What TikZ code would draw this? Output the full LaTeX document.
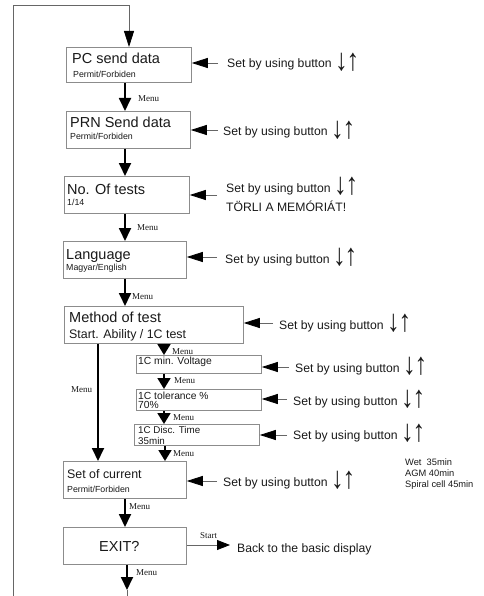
\documentclass[tikz,border=0pt]{standalone}
\usepackage{fontspec}
\usepackage{graphicx}
\setmainfont{Liberation Sans}
\newfontfamily\menufont{Liberation Serif}
\usetikzlibrary{arrows.meta}
\newcommand\updn{{\fontsize{22}{22}\selectfont\raisebox{-2.5pt}{\scalebox{1.15}[1.4]{↓\kern-1pt↑}}}}
\begin{document}
\begin{tikzpicture}[x=1pt,y=-1pt,
  box/.style={draw=black!45, line width=0.8pt, inner sep=0pt, anchor=north west},
  txt/.style={anchor=base west, inner sep=0pt, text=black!90},
  title/.style={txt, font=\fontsize{14.5}{16}\selectfont},
  sub/.style={txt, font=\fontsize{8.8}{10}\selectfont},
  small/.style={txt, font=\fontsize{10.3}{11}\selectfont},
  menu/.style={txt, font=\menufont\fontsize{9}{10}\selectfont},
  setby/.style={txt, font=\fontsize{12.2}{14}\selectfont},
  varr/.style={line width=1.8pt, -{Triangle[length=13pt,width=12pt]}},
  sarr/.style={line width=1.8pt, -{Triangle[length=11pt,width=13pt]}},
  setarr/.style={draw=black!60, line width=0.8pt, -{Triangle[length=16pt,width=10pt,color=black]}},
  thinline/.style={draw=black!60, line width=0.8pt}
]
\useasboundingbox (0,0) rectangle (483,596);

% boxes
\node[box, minimum width=125pt, minimum height=35pt] (pc) at (66,47) {};
\node[box, minimum width=124pt, minimum height=37pt] (prn) at (66,111) {};
\node[box, minimum width=125pt, minimum height=37pt] (tests) at (64,176) {};
\node[box, minimum width=123pt, minimum height=37pt] (lang) at (63,241) {};
\node[box, minimum width=179pt, minimum height=37pt] (method) at (64,306) {};
\node[box, minimum width=125pt, minimum height=18pt] (volt) at (136,355) {};
\node[box, minimum width=125pt, minimum height=21pt] (tol) at (136,389) {};
\node[box, minimum width=125pt, minimum height=21pt] (disc) at (134,424) {};
\node[box, minimum width=123pt, minimum height=37pt] (cur) at (63,461) {};
\node[box, minimum width=123pt, minimum height=37pt] (exit) at (63,527) {};

% box texts
\node[title] (t1) at (72,64) {PC send data};
\node[sub] (s1) at (73,78) {Permit/Forbiden};
\node[title] (t2) at (70,128) {PRN Send data};
\node[sub] (s2) at (70,140) {Permit/Forbiden};
\node[title] (t3) at (67,194) {No. Of tests};
\node[sub] (s3) at (67,205) {1/14};
\node[title] (t4) at (66,259) {Language};
\node[sub] (s4) at (66,270) {Magyar/English};
\node[title] (t5) at (69,322) {Method of test};
\node[txt, font=\fontsize{12.4}{14}\selectfont] (s5) at (69,338) {Start. Ability / 1C test};
\node[small] (t6) at (138,364) {1C min. Voltage};
\node[small] (t7) at (138,399) {1C tolerance \%};
\node[small] (s7) at (138,408) {70\%};
\node[txt, font=\fontsize{9.8}{11}\selectfont] (t8) at (138,433) {1C Disc. Time};
\node[txt, font=\fontsize{9.8}{11}\selectfont] (s8) at (138,444) {35min};
\node[txt, font=\fontsize{12.4}{14}\selectfont] (t9) at (67,478) {Set of current};
\node[sub] (s9) at (67,492) {Permit/Forbiden};
\node[title] (t10) at (99,551) {EXIT?};

% menu labels
\node[menu] (m1) at (138,102) {Menu};
\node[menu] (m2) at (137,230) {Menu};
\node[menu] (m3) at (132,299) {Menu};
\node[menu] (m4) at (71,392) {Menu};
\node[menu] (m5) at (172,354) {Menu};
\node[menu] (m6) at (174,383) {Menu};
\node[menu] (m7) at (173,420) {Menu};
\node[menu] (m8) at (173,456) {Menu};
\node[menu] (m9) at (129,509) {Menu};
\node[menu] (m10) at (136,575) {Menu};
\node[menu] (start) at (200,538) {Start};

% set-by texts
\node[setby] (b1) at (227,68) {Set by using button \updn};
\node[setby] (b2) at (223,136) {Set by using button \updn};
\node[setby] (b3) at (226,192) {Set by using button \updn};
\node[setby] (b3b) at (226,211) {TÖRLI A MEMÓRIÁT!};
\node[setby] (b4) at (225,263) {Set by using button \updn};
\node[setby] (b5) at (279,329) {Set by using button \updn};
\node[setby] (b6) at (295,372) {Set by using button \updn};
\node[setby] (b7) at (293,405) {Set by using button \updn};
\node[setby] (b8) at (293,439) {Set by using button \updn};
\node[setby] (b9) at (223,486) {Set by using button \updn};
\node[setby] (back) at (237,552) {Back to the basic display};
\node[txt, font=\fontsize{9.3}{10.6}\selectfont, align=left, anchor=north west] (note) at (405,459) {Wet\ \ 35min\\AGM 40min\\Spiral cell 45min};

% loop line
\coordinate (lb) at (13,596);
\coordinate (lt) at (13,5);
\coordinate (rt) at (129,5);
\draw[setarr] (lb) -- (lt) -- (rt) -- (pc.north -| rt);

% vertical arrows
\draw[varr] (pc.south -| 125,0) -- (prn.north -| 125,0);
\draw[varr] (prn.south -| 125,0) -- (tests.north -| 125,0);
\draw[varr] (tests.south -| 125,0) -- (lang.north -| 125,0);
\draw[varr] (lang.south -| 125,0) -- (method.north -| 125,0);
\draw[varr] (method.south -| 98,0) -- (cur.north -| 98,0);
\draw[sarr] (method.south -| 164,0) -- (volt.north -| 164,0);
\draw[sarr] (volt.south -| 164,0) -- (tol.north -| 164,0);
\draw[sarr] (tol.south -| 164,0) -- (disc.north -| 164,0);
\draw[sarr] (disc.south -| 165,0) -- (cur.north -| 165,0);
\draw[varr] (cur.south -| 125,0) -- (exit.north -| 125,0);
\coordinate (bt) at (127,590);
\coordinate (bb) at (127,596);
\draw[varr] (exit.south -| bt) -- (bt);
\draw[thinline] (bt) -- (bb);

% start arrow
\coordinate (st) at (230,545);
\draw[setarr, -{Triangle[length=13pt,width=10pt,color=black]}] (exit.east |- st) -- (st);

% set-by arrows
\coordinate (c1) at (218,63);
\coordinate (c2) at (218,130);
\coordinate (c3) at (217,195);
\coordinate (c4) at (217,257);
\coordinate (c5) at (273,323);
\coordinate (c6) at (289,367);
\coordinate (c7) at (287,399);
\coordinate (c8) at (287,435);
\coordinate (c9) at (217,481);
\draw[setarr] (c1) -- (pc.east |- c1);
\draw[setarr] (c2) -- (prn.east |- c2);
\draw[setarr] (c3) -- (tests.east |- c3);
\draw[setarr] (c4) -- (lang.east |- c4);
\draw[setarr] (c5) -- (method.east |- c5);
\draw[setarr] (c6) -- (volt.east |- c6);
\draw[setarr] (c7) -- (tol.east |- c7);
\draw[setarr] (c8) -- (disc.east |- c8);
\draw[setarr] (c9) -- (cur.east |- c9);
\end{tikzpicture}
\end{document}
